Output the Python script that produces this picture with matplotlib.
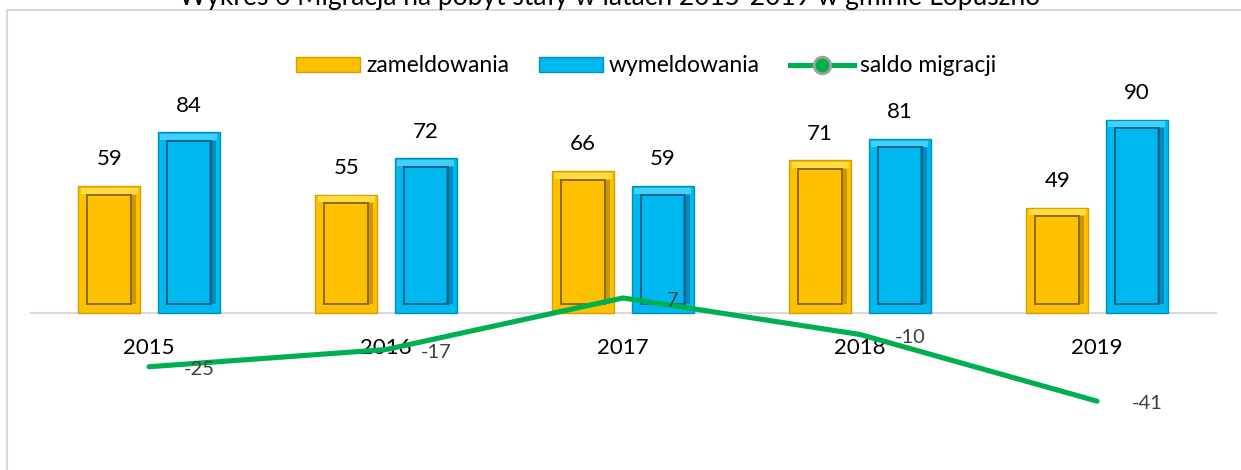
import matplotlib
matplotlib.use("Agg")
import matplotlib.pyplot as plt
from matplotlib.patches import Rectangle
from matplotlib.lines import Line2D
import numpy as np

years = ["2015", "2016", "2017", "2018", "2019"]
zameldowania = [59, 55, 66, 71, 49]
wymeldowania = [84, 72, 59, 81, 90]
saldo = [-25, -17, 7, -10, -41]

title = "Wykres 6 Migracja na pobyt stały w latach 2015-2019 w gminie Łopuszno"

plt.rcParams['font.family'] = ['Lato', 'DejaVu Sans']

W, H = 1241, 470
fig = plt.figure(figsize=(W / 100, H / 100), dpi=100)

# chart border
fig.patches.append(Rectangle((7 / W, -0.1), 1.2, 1.1 - 10 / H, transform=fig.transFigure,
                             fill=False, edgecolor='#D9D9D9', linewidth=1.5))

ax_left, ax_right = 30.5 / W, 1215.5 / W
ax_top, ax_bot = 1 - 98 / H, 1 - 442 / H
ax = fig.add_axes([ax_left, ax_bot, ax_right - ax_left, ax_top - ax_bot])
ax.set_xlim(-0.5, len(years) - 0.5)
ax.set_ylim(-60, 100)

x = np.arange(len(years))
bw = 0.262
off = 0.168

def bevel_bars(xs, vals, face, edge, inner_edge, light, dark):
    ax.bar(xs, vals, width=bw, color=face, edgecolor=edge, linewidth=1.0, zorder=2)
    inset_y = 4.0
    # darker right bevel strip
    ax.bar(xs + bw * 0.38, [v - 2 * inset_y for v in vals], width=bw * 0.10,
           bottom=inset_y, color=dark, linewidth=0, zorder=3, alpha=0.55)
    # light top bevel
    ax.bar(xs, [inset_y * 0.7] * len(vals), width=bw * 0.92,
           bottom=[v - inset_y * 0.9 for v in vals], color=light,
           linewidth=0, zorder=3, alpha=0.85)
    inner_h = [v - 2 * inset_y for v in vals]
    ax.bar(xs, inner_h, width=bw * 0.70, bottom=inset_y, color='none',
           edgecolor=inner_edge, linewidth=1.4, zorder=4)

bevel_bars(x - off, zameldowania, '#FFC000', '#D4A000', '#8C6A00', '#FFE34D', '#A07800')
bevel_bars(x + off, wymeldowania, '#00B8F0', '#0090C0', '#00628A', '#4DD6FF', '#006A94')

for xi, v in zip(x - off, zameldowania):
    ax.annotate(str(v), (xi, v), xytext=(0, 12), textcoords='offset points',
                ha='center', va='bottom', fontsize=16, color='black')
for xi, v in zip(x + off, wymeldowania):
    ax.annotate(str(v), (xi, v), xytext=(0, 12), textcoords='offset points',
                ha='center', va='bottom', fontsize=16, color='black')

ax.plot(x, saldo, color='#00B050', linewidth=3.7, solid_capstyle='round',
        solid_joinstyle='round', zorder=5)
for xi, v in zip(x, saldo):
    ax.annotate(str(v), (xi, v), xytext=(36, -2), textcoords='offset points',
                ha='center', va='center', fontsize=14.5, color='#404040', zorder=6)

for s in ['top', 'right', 'left']:
    ax.spines[s].set_visible(False)
ax.spines['bottom'].set_position(('data', 0))
ax.spines['bottom'].set_color('#D9D9D9')
ax.spines['bottom'].set_linewidth(1.5)
ax.spines['bottom'].set_zorder(1)
ax.set_yticks([])
ax.set_xticks(x)
ax.set_xticklabels(years, fontsize=16)
ax.tick_params(axis='x', length=0, pad=18)
ax.patch.set_visible(False)

# legend
handles = [
    Rectangle((0, 0), 1, 1, facecolor='#FFC000', edgecolor='#D4A000'),
    Rectangle((0, 0), 1, 1, facecolor='#00B8F0', edgecolor='#0090C0'),
    Line2D([0], [0], color='#00B050', linewidth=3.7, marker='o', markersize=12,
           markerfacecolor='#00B050', markeredgecolor='#A0A0A0', markeredgewidth=2),
]
fig.legend(handles, ["zameldowania", "wymeldowania", "saldo migracji"],
           loc='center', bbox_to_anchor=(646 / W, 1 - 66 / H), ncol=3, frameon=False,
           fontsize=16.5, handlelength=2.8, handleheight=0.6, handletextpad=0.25,
           columnspacing=1.3)

fig.text(610 / W, 1 - 5 / H, title, ha='center', va='baseline', fontsize=19, color='black')

fig.savefig('out.png', dpi=100)
